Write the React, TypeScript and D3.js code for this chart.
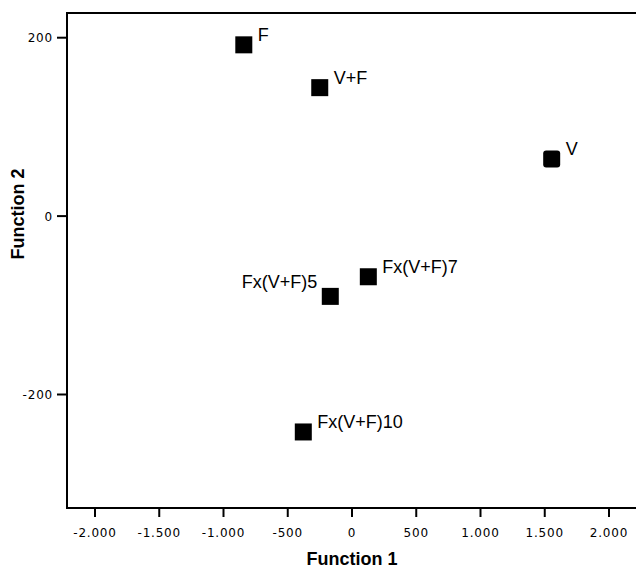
import React, { useEffect, useRef } from 'react';
import * as d3 from 'd3';

// group centroids
const groups = ['F', 'V+F', 'V', 'Fx(V+F)5', 'Fx(V+F)7', 'Fx(V+F)10'];
const function1 = [-842, -251, 1554, -169, 127, -379];
const function2 = [192, 144, 64, -90, -68, -242];

const xTicks = [-2000, -1500, -1000, -500, 0, 500, 1000, 1500, 2000];
const yTicks = [-200, 0, 200];

const width = 636;
const height = 573;

// european thousands separator, as in the original
const fmt = (v: number) => d3.format(',')(v).replace(/,/g, '.').replace('−', '-');

const App = () => {
    const ref = useRef<SVGSVGElement>(null);

    useEffect(() => {
        const left = 67, top = 13, right = 636, bottom = 508;

        const x = d3.scaleLinear().domain([-2000, 2000]).range([95, 609]);
        const y = d3.scaleLinear().domain([-200, 200]).range([394.5, 37.7]);

        const svg = d3.select(ref.current);
        svg.selectAll('*').remove();

        // frame: top, left and bottom lines (right side is cut off)
        svg.append('path')
            .attr('d', `M${right},${top}H${left}V${bottom}H${right}`)
            .attr('fill', 'none')
            .attr('stroke', '#000')
            .attr('stroke-width', 2);

        // x ticks
        const gx = svg.append('g');
        gx.selectAll('line')
            .data(xTicks)
            .join('line')
            .attr('x1', d => x(d)).attr('x2', d => x(d))
            .attr('y1', bottom).attr('y2', bottom + 9)
            .attr('stroke', '#000')
            .attr('stroke-width', 2);
        gx.selectAll('text')
            .data(xTicks)
            .join('text')
            .attr('x', d => x(d))
            .attr('y', 536.5)
            .attr('text-anchor', 'middle')
            .attr('font-family', 'DejaVu Sans, sans-serif')
            .attr('font-size', 12)
            .attr('letter-spacing', 0.8)
            .text(d => fmt(d));

        // y ticks
        const gy = svg.append('g');
        gy.selectAll('line')
            .data(yTicks)
            .join('line')
            .attr('x1', left - 10).attr('x2', left)
            .attr('y1', d => y(d)).attr('y2', d => y(d))
            .attr('stroke', '#000')
            .attr('stroke-width', 2);
        gy.selectAll('text')
            .data(yTicks)
            .join('text')
            .attr('x', 53)
            .attr('y', d => y(d) + 4.6)
            .attr('text-anchor', 'end')
            .attr('font-family', 'DejaVu Sans, sans-serif')
            .attr('font-size', 12)
            .attr('letter-spacing', 0.8)
            .text(d => fmt(d));

        // axis titles
        svg.append('text')
            .attr('x', x(0))
            .attr('y', 565)
            .attr('text-anchor', 'middle')
            .attr('font-family', 'Liberation Sans, Arial, sans-serif')
            .attr('font-weight', 'bold')
            .attr('font-size', 18)
            .text('Function 1');

        svg.append('text')
            .attr('transform', `translate(23.5,${y(0) - 2}) rotate(-90)`)
            .attr('text-anchor', 'middle')
            .attr('font-family', 'Liberation Sans, Arial, sans-serif')
            .attr('font-weight', 'bold')
            .attr('font-size', 18)
            .text('Function 2');

        const pts = groups.map((g, i) => ({ g, f1: function1[i], f2: function2[i] }));
        const size = 17;

        svg.append('g')
            .selectAll('rect')
            .data(pts)
            .join('rect')
            .attr('x', d => x(d.f1) - size / 2)
            .attr('y', d => y(d.f2) - size / 2)
            .attr('width', size)
            .attr('height', size)
            .attr('rx', d => (d.g === 'V' ? 3 : 0))
            .attr('fill', '#000');

        // labels sit up-right of the marker, except Fx(V+F)5 which is on the left
        svg.append('g')
            .attr('font-family', 'Liberation Sans, Arial, sans-serif')
            .attr('font-size', 18)
            .selectAll('text')
            .data(pts)
            .join('text')
            .attr('x', d => x(d.f1) + (d.g === 'Fx(V+F)5' ? -13 : 14))
            .attr('y', d => y(d.f2) + (d.g === 'Fx(V+F)5' ? -8 : -4))
            .attr('text-anchor', d => (d.g === 'Fx(V+F)5' ? 'end' : 'start'))
            .text(d => d.g);
    }, []);

    return (
        <svg
            ref={ref}
            width={width}
            height={height}
            style={{ position: 'absolute', left: 0, top: 0, background: '#fff' }}
        />
    );
};

export default App;
